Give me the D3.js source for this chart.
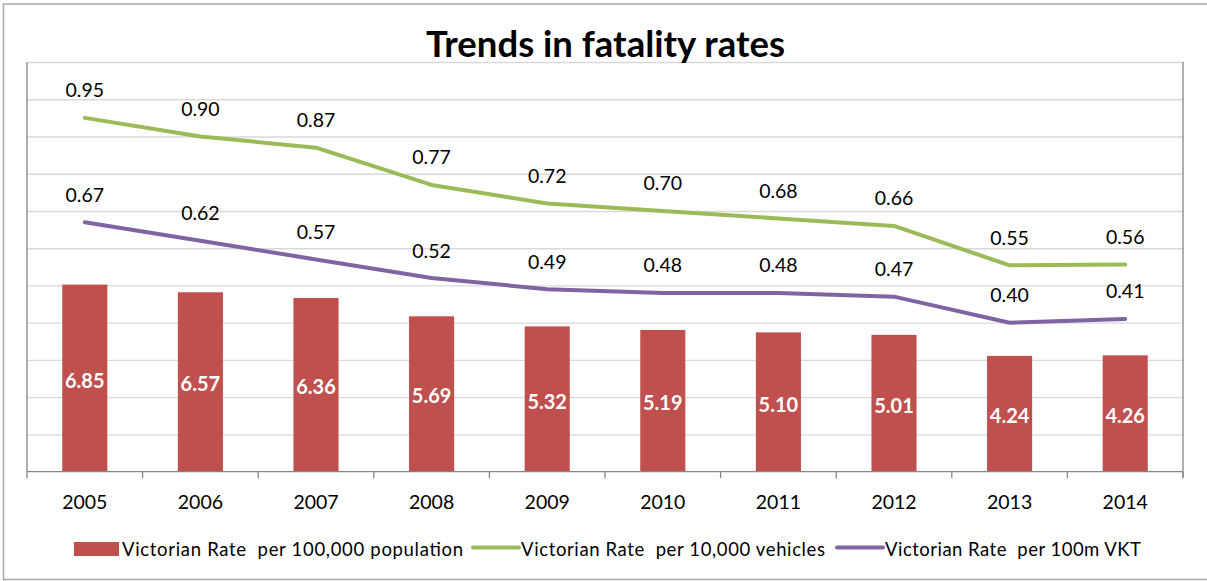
<!DOCTYPE html>
<html>
<head>
<meta charset="utf-8">
<script src="https://cdn.jsdelivr.net/npm/d3@7"></script>
<style>
  html, body { margin: 0; padding: 0; background: #fff; }
  svg { display: block; }
  text { font-family: Lato, "Open Sans", sans-serif; }
</style>
</head>
<body>
<svg id="chart" width="1207" height="581"></svg>
<script>
// ---- data ----
const years = ["2005","2006","2007","2008","2009","2010","2011","2012","2013","2014"];
const ratePopulation = [6.85, 6.57, 6.36, 5.69, 5.32, 5.19, 5.10, 5.01, 4.24, 4.26];
const rateVehicles   = [0.95, 0.90, 0.87, 0.77, 0.72, 0.70, 0.68, 0.66, 0.554, 0.556];
const rateVKT        = [0.67, 0.62, 0.57, 0.52, 0.49, 0.48, 0.48, 0.47, 0.40, 0.41];
const seriesNames = [
  "Victorian Rate  per 100,000 population",
  "Victorian Rate  per 10,000 vehicles",
  "Victorian Rate  per 100m VKT"
];
const gridTicks = [0.1, 0.2, 0.3, 0.4, 0.5, 0.6, 0.7, 0.8, 0.9, 1.0, 1.1];
const titleText = "Trends in fatality rates";

// ---- layout ----
const W = 1207, H = 581;
const plot = { left: 27, right: 1183, top: 62, bottom: 471.7 };
const colors = { bar: "#C0504D", green: "#9BBB59", purple: "#8064A2" };

const svg = d3.select("#chart");

// outer border (right edge lies outside the picture)
svg.append("rect")
  .attr("x", 3.5).attr("y", 4).attr("width", W + 10).attr("height", 575.5)
  .attr("fill", "none").attr("stroke", "#A6A6A6").attr("stroke-width", 1.5);

const x = d3.scaleBand().domain(years).range([plot.left, plot.right]).paddingInner(0).paddingOuter(0);
const yL = d3.scaleLinear().domain([0, 15]).range([plot.bottom, plot.top]);
const yR = d3.scaleLinear().domain([0, 1.1]).range([plot.bottom, plot.top]);

// gridlines (secondary axis ticks)
const grid = svg.append("g")
  .attr("transform", `translate(${plot.left},0)`)
  .call(d3.axisRight(yR).tickValues(gridTicks).tickSize(plot.right - plot.left).tickFormat(""));
grid.select(".domain").remove();
grid.selectAll(".tick line").attr("stroke", "#D9D9D9").attr("stroke-width", 1.3);

// bars
const barW = x.bandwidth() * 0.39;
svg.append("g").selectAll("rect")
  .data(years)
  .join("rect")
  .attr("x", (d) => x(d) + x.bandwidth() / 2 - barW / 2)
  .attr("y", (d, i) => yL(ratePopulation[i]))
  .attr("width", barW)
  .attr("height", (d, i) => yL(0) - yL(ratePopulation[i]))
  .attr("fill", colors.bar);

// bar labels
svg.append("g").selectAll("text")
  .data(years)
  .join("text")
  .attr("x", (d) => x(d) + x.bandwidth() / 2)
  .attr("y", (d, i) => (yL(ratePopulation[i]) + yL(0)) / 2 + 9.5)
  .attr("text-anchor", "middle")
  .attr("font-size", 20).attr("font-weight", "bold").attr("fill", "#fff")
  .text((d, i) => d3.format(".2f")(ratePopulation[i]));

// left & right axis lines
svg.append("line").attr("x1", plot.left).attr("x2", plot.left)
  .attr("y1", plot.top).attr("y2", plot.bottom)
  .attr("stroke", "#868686").attr("stroke-width", 1.3);
svg.append("line").attr("x1", plot.right).attr("x2", plot.right)
  .attr("y1", plot.top).attr("y2", plot.bottom + 6)
  .attr("stroke", "#868686").attr("stroke-width", 1.3);

// x axis
const xAxis = svg.append("g")
  .attr("transform", `translate(0,${plot.bottom})`)
  .call(d3.axisBottom(x).tickSize(0).tickPadding(0));
xAxis.select(".domain").attr("stroke", "#868686").attr("stroke-width", 1.3).attr("d", `M${plot.left},0H${plot.right}`);
xAxis.selectAll(".tick text")
  .attr("font-size", 19.5).attr("fill", "#000")
  .attr("dy", 0).attr("y", 37.8)
  .style("font-family", "Lato, sans-serif");
// boundary ticks
const bounds = years.map((d) => x(d)).concat([plot.right]);
xAxis.append("g").selectAll("line")
  .data(bounds)
  .join("line")
  .attr("x1", (d) => d).attr("x2", (d) => d)
  .attr("y1", 0).attr("y2", 6.5)
  .attr("stroke", "#868686").attr("stroke-width", 1.3);

// lines
const lineGen = (arr) => d3.line()
  .x((d, i) => x(years[i]) + x.bandwidth() / 2)
  .y((d) => yR(d))(arr);

[[rateVehicles, colors.green], [rateVKT, colors.purple]].forEach(([arr, col]) => {
  svg.append("path")
    .attr("d", lineGen(arr))
    .attr("fill", "none").attr("stroke", col).attr("stroke-width", 4)
    .attr("stroke-linecap", "round").attr("stroke-linejoin", "round");
  svg.append("g").selectAll("text")
    .data(arr)
    .join("text")
    .attr("x", (d, i) => x(years[i]) + x.bandwidth() / 2)
    .attr("y", (d) => yR(d) - 20.5)
    .attr("text-anchor", "middle")
    .attr("font-size", 19.5).attr("fill", "#000")
    .text((d) => d3.format(".2f")(d));
});

// title
svg.append("text")
  .attr("x", 605.5).attr("y", 57)
  .attr("text-anchor", "middle")
  .attr("font-size", 36.5).attr("font-weight", "bold").attr("fill", "#000")
  .text(titleText);

// legend
const legendY = 549;
const legend = svg.append("g");
const items = [
  { name: seriesNames[0], type: "rect", color: colors.bar, x: 74, w: 341 },
  { name: seriesNames[1], type: "line", color: colors.green, x: 473, w: 304 },
  { name: seriesNames[2], type: "line", color: colors.purple, x: 837, w: 256 }
];
items.forEach((it) => {
  if (it.type === "rect") {
    legend.append("rect").attr("x", it.x).attr("y", legendY - 7).attr("width", 45).attr("height", 14)
      .attr("fill", it.color);
  } else {
    legend.append("line").attr("x1", it.x).attr("x2", it.x + 46)
      .attr("y1", legendY - 1.5).attr("y2", legendY - 1.5)
      .attr("stroke", it.color).attr("stroke-width", 4).attr("stroke-linecap", "round");
  }
  legend.append("text")
    .attr("x", it.x + 48).attr("y", legendY + 7)
    .attr("font-size", 18.5).attr("fill", "#000")
    .attr("xml:space", "preserve")
    .style("white-space", "pre")
    .attr("textLength", it.w).attr("lengthAdjust", "spacing")
    .text(it.name);
});
</script>
</body>
</html>
